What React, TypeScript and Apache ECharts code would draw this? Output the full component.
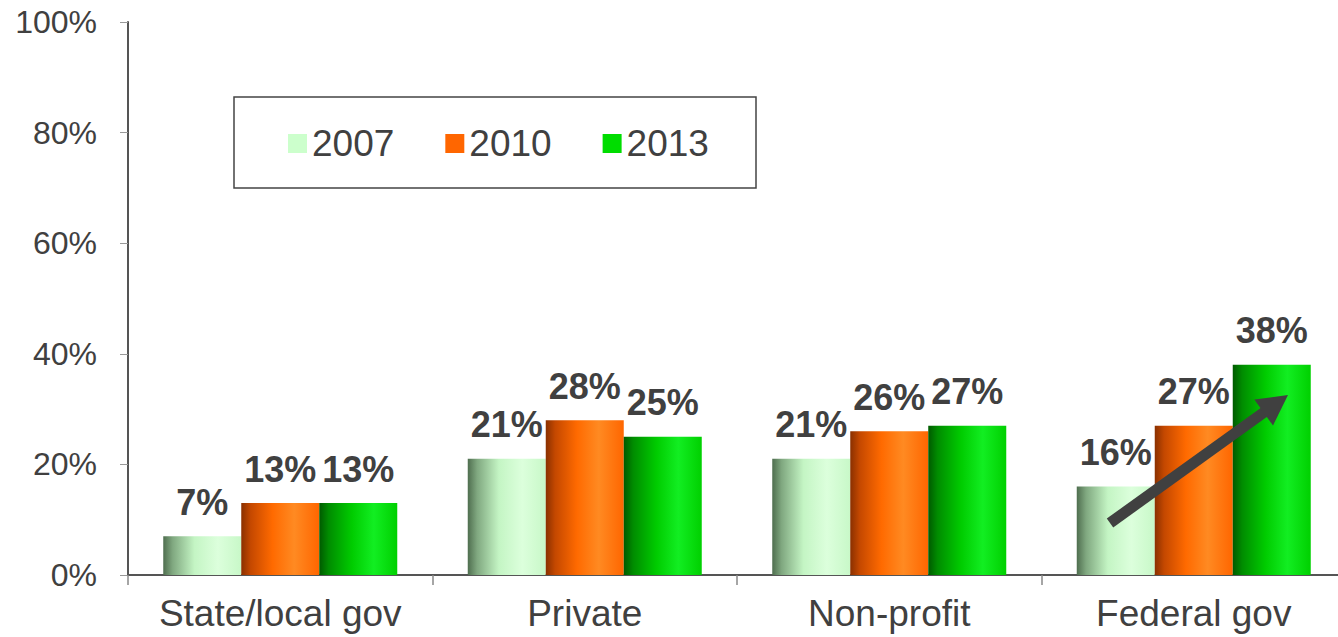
import React, { useEffect, useRef } from "react";
import * as echarts from "echarts";

const categories = ["State/local gov", "Private", "Non-profit", "Federal gov"];
const seriesNames = ["2007", "2010", "2013"];
const values2007 = [7, 21, 21, 16];
const values2010 = [13, 28, 26, 27];
const values2013 = [13, 25, 27, 38];
const yTicks = [0, 20, 40, 60, 80, 100];

const TEXT = "#404040";

const grad = (stops: [number, string][]) =>
  new echarts.graphic.LinearGradient(
    0,
    0,
    1,
    0,
    stops.map(([offset, color]) => ({ offset, color }))
  );

export default function App() {
  const ref = useRef<HTMLDivElement>(null);
  useEffect(() => {
    if (!ref.current) return;
    const chart = echarts.init(ref.current, undefined, { renderer: "svg" });
    const fills = [
      grad([
        [0, "#4f6e4f"],
        [0.12, "#80a880"],
        [0.4, "#c4f5c4"],
        [0.7, "#dcffdc"],
        [1, "#c8f8c8"],
      ]),
      grad([
        [0, "#8a3000"],
        [0.12, "#c44800"],
        [0.4, "#ff6a00"],
        [0.68, "#ff8a22"],
        [1, "#ff6600"],
      ]),
      grad([
        [0, "#005a00"],
        [0.12, "#008c00"],
        [0.42, "#00cc00"],
        [0.7, "#12ee22"],
        [1, "#00d000"],
      ]),
    ];
    const legendColors = ["#ccffcc", "#ff6600", "#00dd00"];
    const data = [values2007, values2010, values2013];
    const series = seriesNames.map((name, i) => ({
      name,
      type: "bar",
      data: data[i],
      barWidth: 78,
      barGap: "0%",
      itemStyle: { color: fills[i] },
      label: {
        show: true,
        position: "top",
        distance: 16,
        formatter: "{c}%",
        color: TEXT,
        fontSize: 36,
        fontWeight: "bold",
        fontFamily: "Liberation Sans, Arial, sans-serif",
      },
    }));

    // arrow annotation
    const tail = [1110, 523];
    const tip = [1288, 395];
    const dx = tip[0] - tail[0];
    const dy = tip[1] - tail[1];
    const len = Math.sqrt(dx * dx + dy * dy);
    const ux = dx / len;
    const uy = dy / len;
    const nx = -uy;
    const ny = ux;
    const headLen = 30;
    const headHalf = 16;
    const bx = tip[0] - headLen * ux;
    const by = tip[1] - headLen * uy;

    chart.setOption({
      animation: false,
      grid: { left: 128, top: 22, bottom: 62, right: -8 },
      legend: {
        data: seriesNames.map((n, i) => ({
          name: n,
          itemStyle: { color: legendColors[i] },
        })),
        left: 283,
        top: 120,
        itemWidth: 19,
        itemHeight: 19,
        itemGap: 51,
        icon: "rect",
        textStyle: {
          color: TEXT,
          fontSize: 37,
          lineHeight: 37,
          fontFamily: "Liberation Sans, Arial, sans-serif",
        },
      },
      xAxis: {
        type: "category",
        data: categories,
        axisLine: { lineStyle: { color: "#555555", width: 2 } },
        axisTick: {
          show: true,
          interval: 0,
          length: 10,
          lineStyle: { color: "#888888", width: 1.5 },
        },
        axisLabel: {
          interval: 0,
          color: TEXT,
          fontSize: 37,
          margin: 20,
          fontFamily: "Liberation Sans, Arial, sans-serif",
        },
      },
      yAxis: {
        type: "value",
        min: yTicks[0],
        max: yTicks[yTicks.length - 1],
        interval: 20,
        axisLine: { show: true, lineStyle: { color: "#555555", width: 2 } },
        axisTick: {
          show: true,
          length: 8,
          lineStyle: { color: "#999999", width: 1 },
        },
        splitLine: { show: false },
        axisLabel: {
          color: TEXT,
          fontSize: 32,
          margin: 31,
          formatter: "{value}%",
          fontFamily: "Liberation Sans, Arial, sans-serif",
        },
      },
      series,
      graphic: [
        {
          type: "rect",
          shape: { x: 234, y: 97, width: 522, height: 91 },
          style: { fill: "none", stroke: "#444444", lineWidth: 1.5 },
          z: 0,
        },
        {
          type: "line",
          shape: { x1: tail[0], y1: tail[1], x2: bx + ux * 2, y2: by + uy * 2 },
          style: { stroke: "#404040", lineWidth: 11 },
          z: 100,
        },
        {
          type: "polygon",
          shape: {
            points: [
              [tip[0], tip[1]],
              [bx + headHalf * nx, by + headHalf * ny],
              [bx - headHalf * nx, by - headHalf * ny],
            ],
          },
          style: { fill: "#404040" },
          z: 100,
        },
      ],
    });
    return () => chart.dispose();
  }, []);
  return (
    <div
      ref={ref}
      style={{
        position: "fixed",
        left: 0,
        top: 0,
        width: 1346,
        height: 637,
        background: "#ffffff",
      }}
    />
  );
}
